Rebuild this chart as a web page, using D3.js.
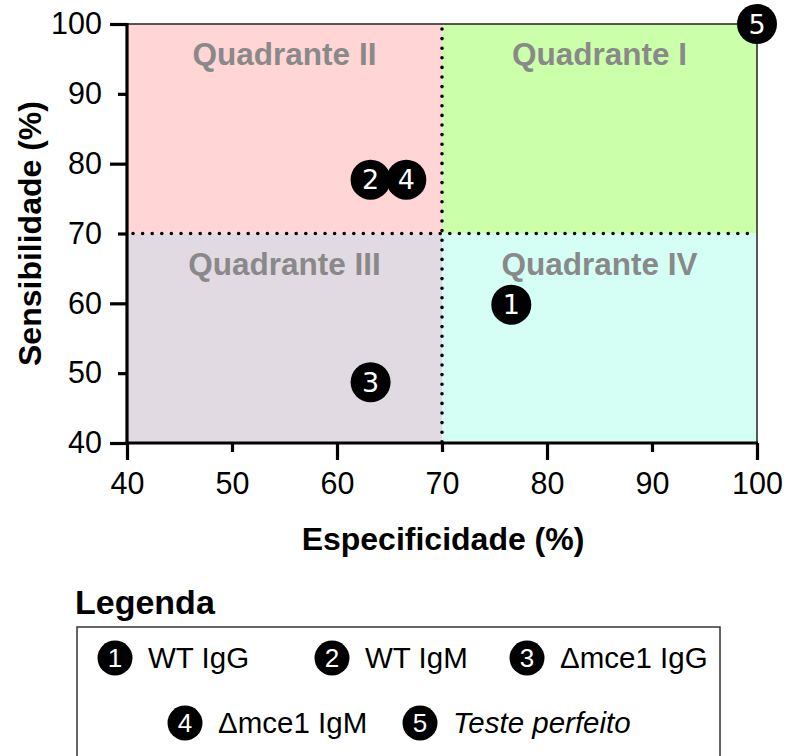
<!DOCTYPE html>
<html><head><meta charset="utf-8">
<script src="https://cdn.jsdelivr.net/npm/d3@7"></script>
<style>
html,body{margin:0;padding:0;background:#fff;}
svg{display:block;font-family:"Liberation Sans",Arial,sans-serif;}
</style></head>
<body>
<svg id="chart" width="787" height="756"></svg>
<script>
// ---- data ----
const pointLabels = ["1", "2", "3", "4", "5"];
const pointNames = ["WT IgG", "WT IgM", "Δmce1 IgG", "Δmce1 IgM", "Teste perfeito"];
const especificidade = [76.6, 63.2, 63.2, 66.6, 100];
const sensibilidade = [59.8, 77.7, 48.7, 77.7, 100];
const xTicks = [40, 50, 60, 70, 80, 90, 100];
const yTicks = [40, 50, 60, 70, 80, 90, 100];
const majorTicks = [40, 60, 80, 100];
const quadrantNames = ["Quadrante I", "Quadrante II", "Quadrante III", "Quadrante IV"];
const quadrantX = [[70, 100], [40, 70], [40, 70], [70, 100]];
const quadrantY = [[70, 100], [70, 100], [40, 70], [40, 70]];
const quadrantColors = ["#ccffaa", "#ffd5d5", "#e1dae2", "#d5fff4"];
const cutoffX = 70, cutoffY = 70;

const svg = d3.select("#chart");
const x = d3.scaleLinear().domain([40, 100]).range([127, 757]);
const y = d3.scaleLinear().domain([40, 100]).range([443, 24]);

// quadrants
const q = svg.append("g");
quadrantNames.forEach((n, i) => {
  q.append("rect")
    .attr("x", x(quadrantX[i][0])).attr("y", y(quadrantY[i][1]))
    .attr("width", x(quadrantX[i][1]) - x(quadrantX[i][0]))
    .attr("height", y(quadrantY[i][0]) - y(quadrantY[i][1]))
    .attr("fill", quadrantColors[i]);
  q.append("text")
    .attr("x", (x(quadrantX[i][0]) + x(quadrantX[i][1])) / 2)
    .attr("y", y(quadrantY[i][1]) + 41)
    .attr("text-anchor", "middle")
    .attr("font-weight", "bold").attr("font-size", 31.5)
    .attr("fill", "#898989")
    .text(n);
});

// frame (top, right)
svg.append("line").attr("x1", x(40)).attr("x2", x(100)).attr("y1", y(100)).attr("y2", y(100))
  .attr("stroke", "#222").attr("stroke-width", 1.5);
svg.append("line").attr("x1", x(100)).attr("x2", x(100)).attr("y1", y(100)).attr("y2", y(40))
  .attr("stroke", "#222").attr("stroke-width", 1.5);

// dotted cutoffs
svg.append("line").attr("x1", x(cutoffX)).attr("x2", x(cutoffX)).attr("y1", y(100) + 5).attr("y2", y(40))
  .attr("stroke", "#000").attr("stroke-width", 3.6).attr("stroke-linecap", "round")
  .attr("stroke-dasharray", "0 9.6");
svg.append("line").attr("x1", x(40) + 6).attr("x2", x(100)).attr("y1", y(cutoffY)).attr("y2", y(cutoffY))
  .attr("stroke", "#000").attr("stroke-width", 3.6).attr("stroke-linecap", "round")
  .attr("stroke-dasharray", "0 9.6");

// axes
const xAxis = svg.append("g").attr("transform", `translate(0,${y(40)})`)
  .call(d3.axisBottom(x).tickValues(xTicks).tickSizeInner(17).tickSizeOuter(0).tickPadding(12));
const yAxis = svg.append("g").attr("transform", `translate(${x(40)},0)`)
  .call(d3.axisLeft(y).tickValues(yTicks).tickSizeInner(17).tickSizeOuter(0).tickPadding(8));
[xAxis, yAxis].forEach(a => {
  a.select(".domain").attr("stroke", "#000").attr("stroke-width", 3.2);
  a.selectAll(".tick line").attr("stroke", "#000").attr("stroke-width", 3.2);
  a.selectAll(".tick text").attr("font-size", 30.5).attr("fill", "#000")
    .attr("font-family", "'Liberation Sans',Arial,sans-serif");
});
xAxis.selectAll(".tick").filter(d => !majorTicks.includes(d)).select("line").attr("y2", 9);
yAxis.selectAll(".tick").filter(d => !majorTicks.includes(d)).select("line").attr("x2", -9);
xAxis.select(".domain").attr("d", `M${x(40) - 1.6},0H${x(100) + 1}`);
yAxis.select(".domain").attr("d", `M0,${y(40) + 1.6}V${y(100) - 1}`);

// axis titles
svg.append("text").attr("x", (x(40) + x(100)) / 2 + 1).attr("y", 550)
  .attr("text-anchor", "middle").attr("font-weight", "bold").attr("font-size", 32)
  .text("Especificidade (%)");
svg.append("text").attr("transform", `translate(41,${(y(40) + y(100)) / 2}) rotate(-90)`)
  .attr("text-anchor", "middle").attr("font-weight", "bold").attr("font-size", 32)
  .text("Sensibilidade (%)");

// points
const pts = svg.append("g").selectAll("g").data(pointLabels).join("g")
  .attr("transform", (d, i) => `translate(${x(especificidade[i])},${y(sensibilidade[i])})`);
pts.append("circle").attr("r", 20).attr("fill", "#000");
pts.append("text").attr("text-anchor", "middle").attr("dy", "0.36em")
  .attr("font-family", "'DejaVu Sans',sans-serif").attr("font-size", 27).attr("fill", "#fff")
  .text(d => d);

// legend
svg.append("text").attr("x", 75).attr("y", 614).attr("font-weight", "bold").attr("font-size", 34)
  .text("Legenda");
svg.append("rect").attr("x", 77).attr("y", 627).attr("width", 643).attr("height", 160)
  .attr("fill", "none").attr("stroke", "#333").attr("stroke-width", 1.5);
const legX = [115, 332, 527, 185, 420];
const legY = [658, 658, 658, 723, 723];
const leg = svg.append("g").selectAll("g").data(pointLabels).join("g")
  .attr("transform", (d, i) => `translate(${legX[i]},${legY[i]})`);
leg.append("circle").attr("r", 17.5).attr("fill", "#000");
leg.append("text").attr("text-anchor", "middle").attr("dy", "0.36em")
  .attr("font-size", 26).attr("fill", "#fff").text(d => d);
leg.append("text").attr("x", 33).attr("dy", "0.35em").attr("font-size", 29.5)
  .attr("font-style", (d, i) => i === 4 ? "italic" : "normal")
  .text((d, i) => pointNames[i]);
</script>
</body></html>
